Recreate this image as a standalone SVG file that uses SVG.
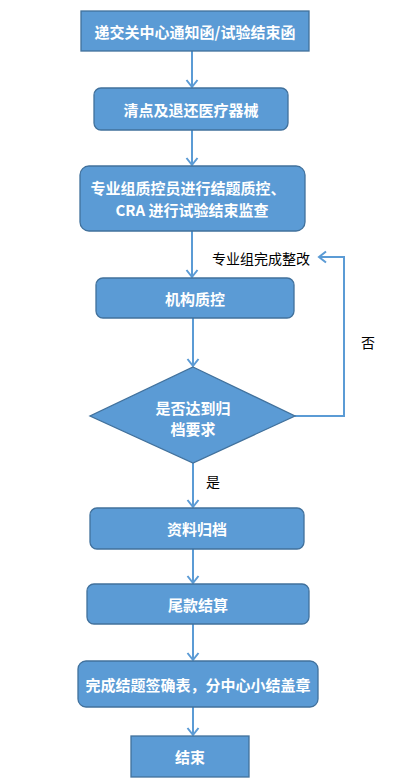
<svg xmlns="http://www.w3.org/2000/svg" width="404" height="782" viewBox="0 0 404 782">
<style>
.n{fill:#5b9bd5;stroke:#41719c;stroke-width:1.3}
.t{font-family:"Noto Sans CJK SC","Liberation Sans",sans-serif;font-size:15px;font-weight:bold;fill:#fff;text-anchor:middle;dominant-baseline:central}
.l{font-family:"Noto Sans CJK SC","Liberation Sans",sans-serif;font-size:14px;fill:#000;dominant-baseline:central}
.c{fill:none;stroke:#5b9bd5;stroke-width:2}
</style>
<defs>
<marker id="a" markerUnits="userSpaceOnUse" markerWidth="14" markerHeight="14" viewBox="0 0 14 14" refX="12" refY="7" orient="auto">
<path d="M5,1.5 L12,7 L5,12.5" fill="none" stroke="#5b9bd5" stroke-width="2"/>
</marker>
</defs>
<rect width="404" height="782" fill="#fff"/>
<g id="connectors">
<line class="c" x1="192" y1="51" x2="192" y2="87" marker-end="url(#a)"/>
<line class="c" x1="192" y1="130" x2="192" y2="165" marker-end="url(#a)"/>
<line class="c" x1="192" y1="231" x2="192" y2="277" marker-end="url(#a)"/>
<line class="c" x1="193" y1="318" x2="193" y2="366" marker-end="url(#a)"/>
<polyline class="c" points="295,416 344,416 344,257 319,257" marker-end="url(#a)"/>
<line class="c" x1="193" y1="463" x2="193" y2="507" marker-end="url(#a)"/>
<line class="c" x1="193" y1="549" x2="193" y2="583" marker-end="url(#a)"/>
<line class="c" x1="193" y1="624" x2="193" y2="660" marker-end="url(#a)"/>
<line class="c" x1="193" y1="707" x2="193" y2="735" marker-end="url(#a)"/>
<text class="l" x="212" y="258">专业组完成整改</text>
<text class="l" x="361" y="342">否</text>
<text class="l" x="206" y="481">是</text>
</g>
<g id="n1"><rect class="n" x="81" y="11" width="228" height="40"/><text class="t" x="195" y="31">递交关中心通知函/试验结束函</text></g>
<g id="n2"><rect class="n" x="94" y="88" width="194" height="42" rx="7"/><text class="t" x="191" y="109">清点及退还医疗器械</text></g>
<g id="n3"><rect class="n" x="80" y="166" width="225" height="65" rx="9"/><text class="t" x="188" y="187">专业组质控员进行结题质控、</text><text class="t" x="192" y="209">CRA 进行试验结束监查</text></g>
<g id="n4"><rect class="n" x="96" y="278" width="198" height="40" rx="7"/><text class="t" x="195" y="298">机构质控</text></g>
<g id="n5"><polygon class="n" points="193,367 295,416 193,463 90,416"/><text class="t" x="193" y="407">是否达到归</text><text class="t" x="193" y="428">档要求</text></g>
<g id="n6"><rect class="n" x="90" y="508" width="214" height="41" rx="7"/><text class="t" x="197" y="528">资料归档</text></g>
<g id="n7"><rect class="n" x="87" y="584" width="222" height="40" rx="7"/><text class="t" x="198" y="604">尾款结算</text></g>
<g id="n8"><rect class="n" x="78" y="661" width="240" height="46" rx="8"/><text class="t" x="198" y="684">完成结题签确表，分中心小结盖章</text></g>
<g id="n9"><rect class="n" x="131" y="736" width="118" height="41"/><text class="t" x="190" y="756">结束</text></g>
</svg>
